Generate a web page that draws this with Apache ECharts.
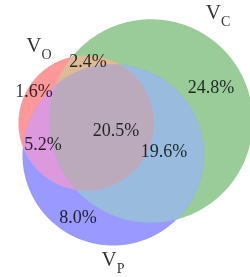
<!DOCTYPE html>
<html>
<head>
<meta charset="utf-8">
<script src="https://cdn.jsdelivr.net/npm/echarts@6/dist/echarts.min.js"></script>
<style>
  html, body { margin: 0; padding: 0; background: #fff; }
  #chart { width: 250px; height: 277px; }
</style>
</head>
<body>
<div id="chart"></div>
<script>
// --- data ---
const setNames = ['O', 'C', 'P'];
// regions as bitmasks over setNames (1 = O, 2 = C, 4 = P), in paint order
const regionMasks = [1, 2, 4, 3, 5, 6, 7];
const regionValues = [1.6, 24.8, 8.0, 2.4, 5.2, 19.6, 20.5];

// --- layout (pixel-like data space, y down) ---
const centers = [[86, 123], [151, 121], [113, 155]];
const scale = 12.4; // radius = scale * sqrt(set size)
const regionColors = ['#ff9999', '#99cc99', '#9999ff', '#ddbb99', '#dd99dd', '#99bbdd', '#bbaabb'];
const regionLabelPos = [[34, 92], [211, 88], [78, 218], [88, 62], [43, 145], [164, 152], [116, 131]];
const setLabelPos = [[39, 49], [218, 16], [113, 263]];

// set sizes: sum of every region containing the set
const setSizes = setNames.map((_, i) =>
  regionMasks.reduce((s, m, k) => (m & (1 << i) ? s + regionValues[k] : s), 0));
const circles = centers.map((c, i) => ({ x: c[0], y: c[1], r: scale * Math.sqrt(setSizes[i]) }));

function inside(x, y, c) {
  return (x - c.x) * (x - c.x) + (y - c.y) * (y - c.y) <= c.r * c.r + 1e-6;
}

const chart = echarts.init(document.getElementById('chart'));
chart.setOption({
  animation: false,
  grid: { left: 0, right: 0, top: 0, bottom: 0 },
  xAxis: { type: 'value', min: 0, max: 250, show: false },
  yAxis: { type: 'value', min: 0, max: 277, inverse: true, show: false },
  series: [
    {
      type: 'custom',
      data: regionMasks.map((m, i) => [m, regionValues[i]]),
      renderItem: function (params, api) {
        const mask = regionMasks[params.dataIndex];
        const members = [0, 1, 2].filter(i => mask & (1 << i));
        const pts = [];
        members.forEach(i => {
          const c = circles[i];
          for (let a = 0; a < 720; a++) {
            const t = a * Math.PI / 360;
            const x = c.x + c.r * Math.cos(t), y = c.y + c.r * Math.sin(t);
            if (members.every(j => j === i || inside(x, y, circles[j]))) pts.push([x, y]);
          }
        });
        let mx = 0, my = 0;
        pts.forEach(p => { mx += p[0]; my += p[1]; });
        mx /= pts.length; my /= pts.length;
        pts.sort((p, q) => Math.atan2(p[1] - my, p[0] - mx) - Math.atan2(q[1] - my, q[0] - mx));
        return {
          type: 'polygon',
          shape: { points: pts.map(p => api.coord(p)) },
          style: { fill: regionColors[params.dataIndex] }
        };
      }
    },
    {
      type: 'scatter',
      symbolSize: 1,
      itemStyle: { color: 'transparent' },
      data: regionLabelPos.map((p, i) => [p[0], p[1], regionValues[i]]),
      label: {
        show: true,
        position: 'inside',
        formatter: p => p.value[2].toFixed(1) + '%',
        fontFamily: 'Liberation Serif',
        fontSize: 18,
        color: '#000'
      }
    },
    {
      type: 'scatter',
      symbolSize: 1,
      itemStyle: { color: 'transparent' },
      data: setLabelPos.map((p, i) => [p[0], p[1], setNames[i]]),
      label: {
        show: true,
        position: 'inside',
        formatter: p => '{v|V}{s|' + p.value[2] + '}',
        fontFamily: 'Liberation Serif',
        color: '#000',
        rich: {
          v: { fontFamily: 'Liberation Serif', fontSize: 21, lineHeight: 26, verticalAlign: 'top' },
          s: { fontFamily: 'Liberation Serif', fontSize: 14, lineHeight: 26, padding: [10, 0, 0, 0], verticalAlign: 'bottom' }
        }
      }
    }
  ]
});
</script>
</body>
</html>
